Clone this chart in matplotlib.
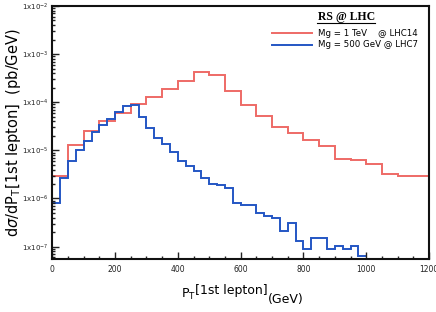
import numpy as np
import matplotlib
matplotlib.use("Agg")
import matplotlib.pyplot as plt
from matplotlib.ticker import LogLocator, FixedLocator, MultipleLocator, FuncFormatter
from matplotlib.lines import Line2D

# Mg = 1 TeV @ LHC14, 50 GeV bins from 0 to 1200
red_edges = np.arange(0, 1201, 50)
red_vals = [2.9e-6, 1.3e-5, 2.55e-5, 4.1e-5, 6.05e-5, 9.0e-5, 1.28e-4, 1.85e-4,
            2.8e-4, 4.25e-4, 3.75e-4, 1.75e-4, 8.95e-5, 5.05e-5, 3.0e-5, 2.3e-5,
            1.62e-5, 1.25e-5, 6.5e-6, 6.3e-6, 5.1e-6, 3.3e-6, 3.0e-6, 3.0e-6]

# Mg = 500 GeV @ LHC7, 25 GeV bins from 0 to 1000 (log10 of the value)
blue_edges = np.arange(0, 1001, 25)
blue_log = [-6.10, -5.576, -5.222, -4.994, -4.807, -4.613, -4.468, -4.343,
            -4.197, -4.079, -4.065, -4.301, -4.543, -4.738, -4.875, -5.029,
            -5.222, -5.333, -5.424, -5.570, -5.694, -5.711, -5.790, -6.085,
            -6.127, -6.127, -6.310, -6.366, -6.401, -6.672, -6.505, -6.892,
            -7.058, -6.830, -6.830, -7.058, -6.983, -7.058, -6.983, -7.198]
blue_vals = [10 ** v for v in blue_log]

red_col = "#ee6a66"
blue_col = "#2456c4"

fig = plt.figure(figsize=(4.36, 3.12), dpi=100)
ax = fig.add_axes([0.12, 0.170, 0.864, 0.811])

ax.stairs(red_vals, red_edges, baseline=None, color=red_col, lw=1.4)
ax.stairs(blue_vals, blue_edges, baseline=None, color=blue_col, lw=1.4)

ax.set_yscale("log")
ax.set_xlim(0, 1200)
ax.set_ylim(10 ** -7.256, 1e-2)

ax.xaxis.set_major_locator(MultipleLocator(200))
ax.xaxis.set_minor_locator(MultipleLocator(50))
ax.yaxis.set_major_locator(FixedLocator([1e-7, 1e-6, 1e-5, 1e-4, 1e-3, 1e-2]))
ax.yaxis.set_minor_locator(LogLocator(base=10, subs=np.arange(2, 10), numticks=20))

def ylab(v, pos):
    e = int(round(np.log10(v)))
    return r"1x10$^{%d}$" % e

ax.yaxis.set_major_formatter(FuncFormatter(ylab))
ax.tick_params(which="both", direction="in", labelsize=5.5, width=1, colors="#222222")
ax.tick_params(axis="y", which="major", labelsize=5)
ax.tick_params(which="major", length=5)
ax.tick_params(which="minor", length=2.5)
ax.tick_params(axis="x", which="major", pad=4)
ax.tick_params(axis="y", which="major", pad=3)

for s in ax.spines.values():
    s.set_linewidth(1.5)
    s.set_color("#111111")

# axis labels
fig.text(0.030, 0.575, r"d$\sigma$/dP$_\mathrm{T}$[1st lepton]  (pb/GeV)",
         rotation=90, ha="center", va="center", fontsize=10.5)
fig.text(0.415, 0.045, r"P$_\mathrm{T}$", ha="left", va="baseline", fontsize=9)
fig.text(0.447, 0.058, "[1st lepton]", ha="left", va="baseline", fontsize=9)
fig.text(0.614, 0.03, "(GeV)", ha="left", va="baseline", fontsize=9)

# legend
fig.text(0.794, 0.936, "RS @ LHC", ha="center", va="baseline",
         fontsize=8.5, fontweight="bold", family="Liberation Serif")
fig.add_artist(Line2D([0.728, 0.86], [0.927, 0.927], color="black", lw=0.8))
fig.add_artist(Line2D([0.624, 0.716], [0.894, 0.894], color=red_col, lw=1.4))
fig.add_artist(Line2D([0.624, 0.716], [0.856, 0.856], color=blue_col, lw=1.4))
fig.text(0.729, 0.894, "Mg = 1 TeV    @ LHC14", ha="left", va="center", fontsize=6.2)
fig.text(0.729, 0.856, "Mg = 500 GeV @ LHC7", ha="left", va="center", fontsize=6.2)

fig.savefig("out.png", dpi=100)
